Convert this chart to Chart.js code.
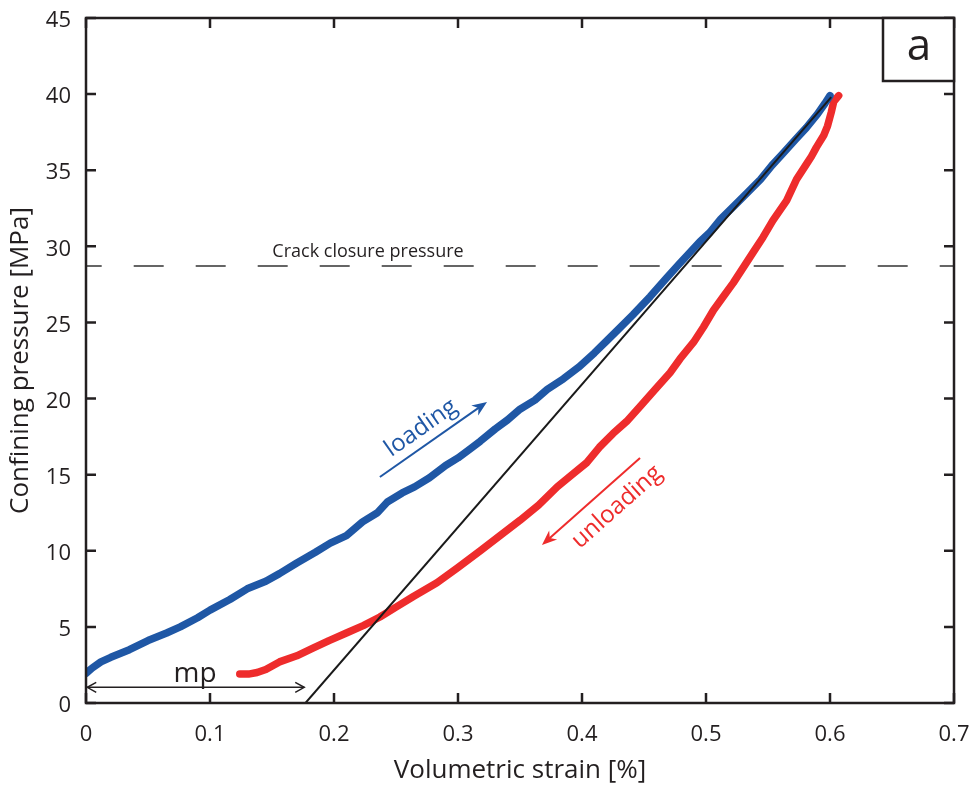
<!DOCTYPE html>
<html>
<head>
<meta charset="utf-8">
<script src="https://cdn.jsdelivr.net/npm/chart.js@4/dist/chart.umd.min.js"></script>
<style>
  html, body { margin: 0; padding: 0; background: #fff; }
  #wrap { width: 971px; height: 788px; }
</style>
</head>
<body>
<div id="wrap"><canvas id="myChart"></canvas></div>
<script>
// volumetric strain [%] / confining pressure [MPa]
const loadingStrain = [0.000, 0.005, 0.012, 0.020, 0.035, 0.050, 0.065, 0.076, 0.090, 0.100, 0.116, 0.130, 0.145, 0.156, 0.170, 0.185, 0.197, 0.210, 0.223, 0.235, 0.243, 0.255, 0.265, 0.277, 0.290, 0.300, 0.310, 0.318, 0.330, 0.340, 0.350, 0.362, 0.372, 0.385, 0.398, 0.410, 0.420, 0.430, 0.441, 0.455, 0.468, 0.478, 0.487, 0.495, 0.503, 0.512, 0.522, 0.533, 0.544, 0.553, 0.562, 0.572, 0.581, 0.590, 0.596, 0.600]
const loadingPressure = [1.95, 2.3, 2.7, 3.0, 3.5, 4.1, 4.6, 5.0, 5.6, 6.1, 6.8, 7.5, 8.0, 8.5, 9.2, 9.9, 10.5, 11.0, 11.9, 12.5, 13.2, 13.8, 14.2, 14.8, 15.6, 16.1, 16.7, 17.2, 18.0, 18.6, 19.3, 19.9, 20.6, 21.3, 22.1, 23.0, 23.8, 24.6, 25.5, 26.7, 27.9, 28.8, 29.6, 30.3, 30.9, 31.8, 32.6, 33.5, 34.4, 35.3, 36.1, 37.0, 37.8, 38.7, 39.4, 39.9]

const unloadingStrain = [0.607, 0.603, 0.601, 0.598, 0.595, 0.589, 0.585, 0.581, 0.573, 0.565, 0.554, 0.546, 0.538, 0.530, 0.522, 0.514, 0.506, 0.498, 0.490, 0.479, 0.471, 0.460, 0.447, 0.436, 0.425, 0.414, 0.404, 0.392, 0.380, 0.365, 0.350, 0.334, 0.318, 0.300, 0.283, 0.264, 0.250, 0.237, 0.224, 0.210, 0.196, 0.183, 0.170, 0.156, 0.145, 0.138, 0.131, 0.124]
const unloadingPressure = [39.9, 39.5, 38.8, 37.9, 37.3, 36.5, 35.9, 35.4, 34.4, 33.0, 31.7, 30.6, 29.6, 28.6, 27.6, 26.7, 25.8, 24.7, 23.7, 22.6, 21.7, 20.7, 19.5, 18.5, 17.7, 16.8, 15.8, 15.0, 14.2, 13.0, 12.0, 11.0, 10.0, 8.9, 7.9, 7.0, 6.3, 5.65, 5.1, 4.6, 4.1, 3.6, 3.1, 2.7, 2.2, 2.0, 1.9, 1.9]

// linear fit of the upper loading branch, extended down to zero pressure
const fitStrain = [0.177, 0.601]
const fitPressure = [0, 39.8]

const crackClosurePressure = 28.7
const mpStrain = [0.001, 0.176]
const mpPressure = 1.03

const xTickLabels = ['0', '0.1', '0.2', '0.3', '0.4', '0.5', '0.6', '0.7']
const yTickLabels = ['0', '5', '10', '15', '20', '25', '30', '35', '40', '45']

const ink = '#231f20'
const blue = '#1f57a5'
const red = '#ee2c2c'

const toPoints = (xs, ys) => xs.map((x, i) => ({ x, y: ys[i] }))

Chart.defaults.font.family = '"Open Sans", "DejaVu Sans", sans-serif'
Chart.defaults.color = ink

const arrowHead = (ctx, x, y, ang, len, half, filled) => {
  ctx.beginPath()
  ctx.moveTo(x - len * Math.cos(ang) - half * Math.sin(ang), y - len * Math.sin(ang) + half * Math.cos(ang))
  ctx.lineTo(x, y)
  ctx.lineTo(x - len * Math.cos(ang) + half * Math.sin(ang), y - len * Math.sin(ang) - half * Math.cos(ang))
  if (filled) {
    ctx.lineTo(x - len * 0.7 * Math.cos(ang), y - len * 0.7 * Math.sin(ang))
    ctx.closePath()
    ctx.fill()
  } else {
    ctx.stroke()
  }
}

const frame = {
  id: 'frame',
  afterDatasetsDraw (chart) {
    const { ctx, chartArea: a, scales } = chart
    const px = (x, y) => [scales.x.getPixelForValue(x), scales.y.getPixelForValue(y)]
    ctx.save()

    // box and inward ticks on all four sides
    ctx.strokeStyle = ink
    ctx.lineWidth = 2.5
    ctx.strokeRect(a.left, a.top, a.right - a.left, a.bottom - a.top)
    ctx.beginPath()
    scales.x.ticks.forEach(t => {
      const x = scales.x.getPixelForValue(t.value)
      ctx.moveTo(x, a.bottom); ctx.lineTo(x, a.bottom - 10)
      ctx.moveTo(x, a.top); ctx.lineTo(x, a.top + 10)
    })
    scales.y.ticks.forEach(t => {
      const y = scales.y.getPixelForValue(t.value)
      ctx.moveTo(a.left, y); ctx.lineTo(a.left + 10, y)
      ctx.moveTo(a.right, y); ctx.lineTo(a.right - 10, y)
    })
    ctx.stroke()

    // panel letter
    ctx.fillStyle = '#fff'
    ctx.fillRect(a.right - 71, a.top, 71, 63)
    ctx.strokeRect(a.right - 71, a.top, 71, 63)
    ctx.fillStyle = ink
    ctx.font = '44px "Open Sans", sans-serif'
    ctx.textAlign = 'center'
    ctx.textBaseline = 'middle'
    ctx.fillText('a', a.right - 35, a.top + 29)

    // crack closure label
    const [cx, cy] = px(0.2274, 29.3)
    ctx.font = '18px "Open Sans", sans-serif'
    ctx.textBaseline = 'alphabetic'
    ctx.fillText('Crack closure pressure', cx, cy)

    // mp double arrow
    const [m0, my] = px(mpStrain[0], mpPressure)
    const [m1] = px(mpStrain[1], mpPressure)
    ctx.lineWidth = 1.5
    ctx.beginPath(); ctx.moveTo(m0, my); ctx.lineTo(m1, my); ctx.stroke()
    arrowHead(ctx, m1, my, 0, 9, 5, false)
    arrowHead(ctx, m0, my, Math.PI, 9, 5, false)
    const [tx, ty] = px(0.0879, 1.38)
    ctx.font = '28px "Open Sans", sans-serif'
    ctx.fillText('mp', tx, ty)

    // direction arrows with rotated labels
    const drawNote = (from, to, color, text, at) => {
      const [x0, y0] = px(from[0], from[1])
      const [x1, y1] = px(to[0], to[1])
      const ang = Math.atan2(y1 - y0, x1 - x0)
      ctx.strokeStyle = color
      ctx.fillStyle = color
      ctx.lineWidth = 2
      ctx.beginPath(); ctx.moveTo(x0, y0); ctx.lineTo(x1 - 6 * Math.cos(ang), y1 - 6 * Math.sin(ang)); ctx.stroke()
      arrowHead(ctx, x1, y1, ang, 15, 6, true)
      const [lx, ly] = px(at[0], at[1])
      let rot = ang
      if (Math.cos(rot) < 0) rot += Math.PI
      ctx.save()
      ctx.translate(lx, ly)
      ctx.rotate(rot)
      ctx.font = '24px "Open Sans", sans-serif'
      ctx.textAlign = 'center'
      ctx.textBaseline = 'middle'
      ctx.fillText(text, 0, 0)
      ctx.restore()
    }
    drawNote([0.237, 14.85], [0.3234, 19.78], blue, 'loading', [0.2702, 18.07])
    drawNote([0.4468, 16.1], [0.3677, 10.38], red, 'unloading', [0.4282, 12.88])

    ctx.restore()
  }
}

const myChart = new Chart(document.getElementById('myChart'), {
  type: 'line',
  data: {
    datasets: [
      {
        label: 'fit',
        data: toPoints(fitStrain, fitPressure),
        borderColor: '#1a1a1a',
        borderWidth: 2,
        order: 0
      },
      {
        label: 'loading',
        data: toPoints(loadingStrain, loadingPressure),
        borderColor: blue,
        borderWidth: 7.5,
        borderCapStyle: 'round',
        borderJoinStyle: 'round',
        order: 1
      },
      {
        label: 'unloading',
        data: toPoints(unloadingStrain, unloadingPressure),
        borderColor: red,
        borderWidth: 7.5,
        borderCapStyle: 'round',
        borderJoinStyle: 'round',
        order: 2
      },
      {
        label: 'crack closure',
        data: toPoints([0, 0.7], [crackClosurePressure, crackClosurePressure]),
        borderColor: '#333',
        borderWidth: 1.5,
        borderDash: [30, 32],
        borderDashOffset: 14.3,
        order: 3
      }
    ]
  },
  options: {
    responsive: true,
    maintainAspectRatio: false,
    devicePixelRatio: 1,
    animation: false,
    parsing: false,
    elements: { point: { radius: 0 }, line: { tension: 0 } },
    layout: { padding: { top: 18, right: 17, left: 0, bottom: 0 } },
    plugins: { legend: { display: false }, tooltip: { enabled: false } },
    scales: {
      x: {
        type: 'linear',
        min: 0,
        max: 0.7,
        grid: { display: false, drawTicks: false },
        border: { display: false },
        afterFit: s => {
          s.height = 85
          s.paddingLeft = 0
          s.paddingRight = 0
        },
        ticks: {
          stepSize: 0.1,
          padding: 19,
          font: { size: 22 },
          color: ink,
          maxRotation: 0,
          callback: (v, i) => xTickLabels[i]
        },
        title: {
          display: true,
          text: 'Volumetric strain [%]',
          font: { size: 26 },
          color: ink,
          padding: { top: 0, bottom: 2 }
        }
      },
      y: {
        type: 'linear',
        min: 0,
        max: 45,
        grid: { display: false, drawTicks: false },
        border: { display: false },
        afterFit: s => {
          s.width = 86
          s.paddingTop = 0
          s.paddingBottom = 0
        },
        ticks: {
          stepSize: 5,
          padding: 15,
          labelOffset: 3,
          font: { size: 22 },
          color: ink,
          callback: (v, i) => yTickLabels[i]
        },
        title: {
          display: true,
          text: 'Confining pressure [MPa]',
          font: { size: 26 },
          color: ink,
          padding: { top: 5, bottom: 0 }
        }
      }
    }
  },
  plugins: [frame]
})
</script>
</body>
</html>
